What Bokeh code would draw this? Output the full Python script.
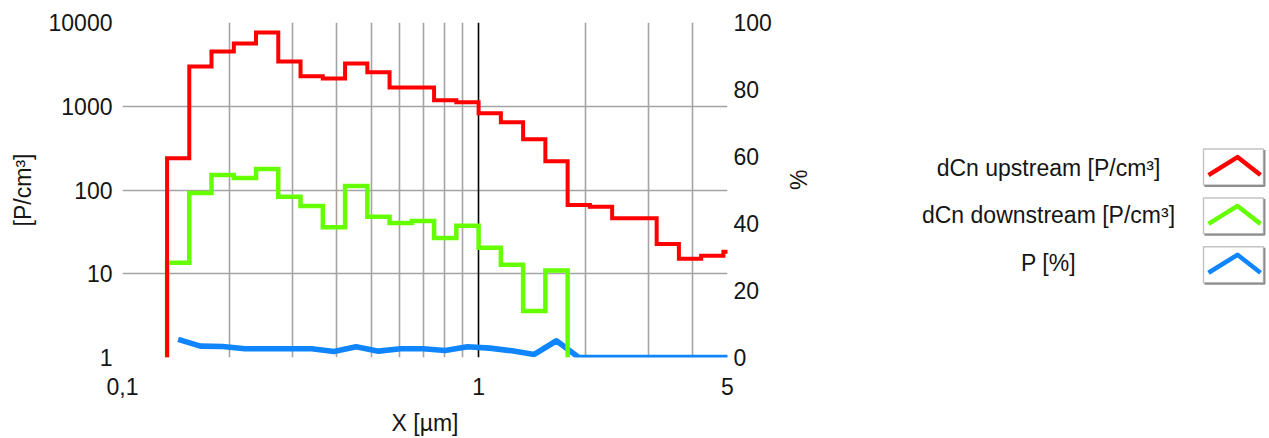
import math
from bokeh.plotting import figure
from bokeh.models import Range1d, LinearAxis, FixedTicker, Grid, LinearScale
from bokeh.layouts import row
from bokeh.embed import file_html
from bokeh.resources import INLINE
from bokeh.core.properties import value

# ---------------- data ----------------
# channel edges (16 channels per decade) in µm
bin_edges_um = [0.1334, 0.1540, 0.1778, 0.2054, 0.2371, 0.2738, 0.3162, 0.3652,
                0.4217, 0.4870, 0.5623, 0.6494, 0.7499, 0.8660, 1.0000, 1.1548,
                1.3335, 1.5399, 1.7783, 2.0535, 2.3714, 2.7384, 3.1623, 3.6517,
                4.2170, 4.8697, 5.6234]
# channel mid diameters in µm
bin_mid_um = [0.1433, 0.1655, 0.1911, 0.2207, 0.2548, 0.2943, 0.3398, 0.3924,
              0.4532, 0.5233, 0.6043, 0.6978, 0.8058, 0.9306, 1.0746, 1.2409,
              1.4330, 1.6548, 1.9110, 2.2067, 2.5483, 2.9427, 3.3982, 3.9242,
              4.5316, 5.2330]
dcn_upstream = [240, 2990, 4520, 5620, 7600, 3430, 2280, 2150, 3250, 2540,
                1680, 1680, 1180, 1115, 826, 645, 405, 221, 66, 63,
                46, 46, 22.7, 15.1, 16.4, 18.3]
dcn_downstream = [13.5, 92, 151, 139, 178, 83, 64.5, 36, 112, 48,
                  40.5, 42.7, 26.8, 37.3, 20.4, 12.8, 3.6, 10.9, 0, 0,
                  0, 0, 0, 0, 0, 0]
penetration_pct = [5.4, 3.4, 3.3, 2.6, 2.6, 2.6, 2.6, 1.8, 3.2, 1.9,
                   2.6, 2.6, 2.1, 3.2, 2.8, 2.0, 0.9, 5.0, 0, 0,
                   0, 0, 0, 0, 0, 0]

series_names = ["dCn upstream [P/cm³]", "dCn downstream [P/cm³]", "P [%]"]
series_colors = ["#FF0000", "#66FF00", "#0F86FF"]

x_tick_values = [0.1, 1, 5]
x_tick_labels = ["0,1", "1", "5"]
x_grid_values = [0.2, 0.3, 0.4, 0.5, 0.6, 0.7, 0.8, 0.9, 2, 3, 4]
y_tick_values = [1, 10, 100, 1000, 10000]
y_grid_values = [10, 100, 1000]
pct_tick_values = [0, 20, 40, 60, 80, 100]

FONT = "Liberation Sans"
TXT = "#151515"


def step_path(edges, vals, floor=1.0):
    xs, ys = [edges[0]], [floor]
    last = -1
    for i, v in enumerate(vals):
        if v <= 0:
            break
        xs += [edges[i], edges[i + 1]]
        ys += [v, v]
        last = i
    xs.append(edges[last + 1])
    ys.append(floor)
    return xs, ys


H = 438
W_MAIN = 830
B_TOP, B_BOTTOM = 22, 80
p = figure(width=W_MAIN, height=H, x_axis_type="log", y_axis_type="log",
           x_range=Range1d(0.1, 5), y_range=Range1d(1, 10000),
           output_backend="svg", toolbar_location=None,
           min_border_left=122, min_border_right=103,
           min_border_top=B_TOP, min_border_bottom=B_BOTTOM)
p.outline_line_color = None
p.extra_y_ranges = {"pct": Range1d(0, 100)}
p.extra_y_scales = {"pct": LinearScale()}

right_axis = LinearAxis(y_range_name="pct", axis_label="%")
p.add_layout(right_axis, "right")

for ax in p.axis:
    ax.axis_line_color = None
    ax.major_tick_line_color = None
    ax.minor_tick_line_color = None
    ax.major_tick_out = 0
    ax.major_tick_in = 0
    ax.minor_tick_out = 0
    ax.minor_tick_in = 0
    ax.major_label_text_font = FONT
    ax.major_label_text_font_size = "23px"
    ax.major_label_text_color = TXT
    ax.axis_label_text_font = FONT
    ax.axis_label_text_font_size = "23px"
    ax.axis_label_text_font_style = "normal"
    ax.axis_label_text_color = TXT

p.xaxis.ticker = FixedTicker(ticks=x_tick_values)
p.xaxis.major_label_overrides = {v: t for v, t in zip(x_tick_values, x_tick_labels)}
p.xaxis.axis_label = "X [µm]"
p.xaxis.major_label_standoff = 20
p.xaxis.axis_label_standoff = 12

ly = p.yaxis[0]
ly.ticker = FixedTicker(ticks=y_tick_values)
ly.major_label_overrides = {v: str(v) for v in y_tick_values}
ly.axis_label = "[P/cm³]"
ly.major_label_standoff = 10
ly.axis_label_standoff = 10

right_axis.ticker = FixedTicker(ticks=pct_tick_values)
right_axis.major_label_standoff = 6
right_axis.axis_label_standoff = 24
try:
    right_axis.axis_label_orientation = math.pi / 2
except Exception:
    pass

p.xgrid.ticker = FixedTicker(ticks=x_grid_values)
p.ygrid.ticker = FixedTicker(ticks=y_grid_values)
p.grid.grid_line_color = "#A4A4A4"
p.grid.grid_line_width = 1.6
p.add_layout(Grid(dimension=0, ticker=FixedTicker(ticks=[1]),
                  grid_line_color="black", grid_line_width=1.6))

rx, ry = step_path(bin_edges_um, dcn_upstream)
gx, gy = step_path(bin_edges_um, dcn_downstream)

p.line(bin_mid_um, penetration_pct, y_range_name="pct",
       line_color=series_colors[2], line_width=5.6, line_join="round")
p.line(gx, gy, line_color=series_colors[1], line_width=4.5, line_join="miter")
p.line(rx, ry, line_color=series_colors[0], line_width=4, line_join="miter")

# ---------------- legend panel ----------------
# panel uses the same frame as the chart; its ranges are page pixels
X0 = W_MAIN
W_LEG = 1269 - X0
FRAME_TOP, FRAME_BOTTOM = B_TOP, H - B_BOTTOM
lg = figure(width=W_LEG, height=H, x_range=Range1d(X0, X0 + W_LEG),
            y_range=Range1d(FRAME_BOTTOM, FRAME_TOP),
            output_backend="svg", toolbar_location=None,
            min_border_left=0, min_border_right=0,
            min_border_top=B_TOP, min_border_bottom=B_BOTTOM,
            x_axis_location=None, y_axis_location=None)
lg.outline_line_color = None
lg.grid.visible = False

text_y = [168, 215, 263]
box_top = [149, 198, 247]
box_left = 1203
box_w, box_h = 60, 36

lg.text(x=[1048] * 3, y=text_y, text=series_names, text_align="center",
        text_baseline="middle", text_font=value(FONT), text_font_size="23px",
        text_color=TXT)
for t, c in zip(box_top, series_colors):
    lg.quad(left=box_left, right=box_left + box_w, top=t, bottom=t + box_h,
            fill_color="white", line_color="#C4C4C4", line_width=1.5)
    lg.line([box_left + 1, box_left + box_w + 1, box_left + box_w + 1],
            [t + box_h + 1, t + box_h + 1, t + 1], line_color="#8E8E8E", line_width=2)
    lg.line([box_left + 5, box_left + 34, box_left + 57],
            [t + 26, t + 8, t + 26], line_color=c, line_width=4.5, line_join="round")

layout = row(p, lg)
open("out.html", "w").write(file_html(layout, INLINE))
